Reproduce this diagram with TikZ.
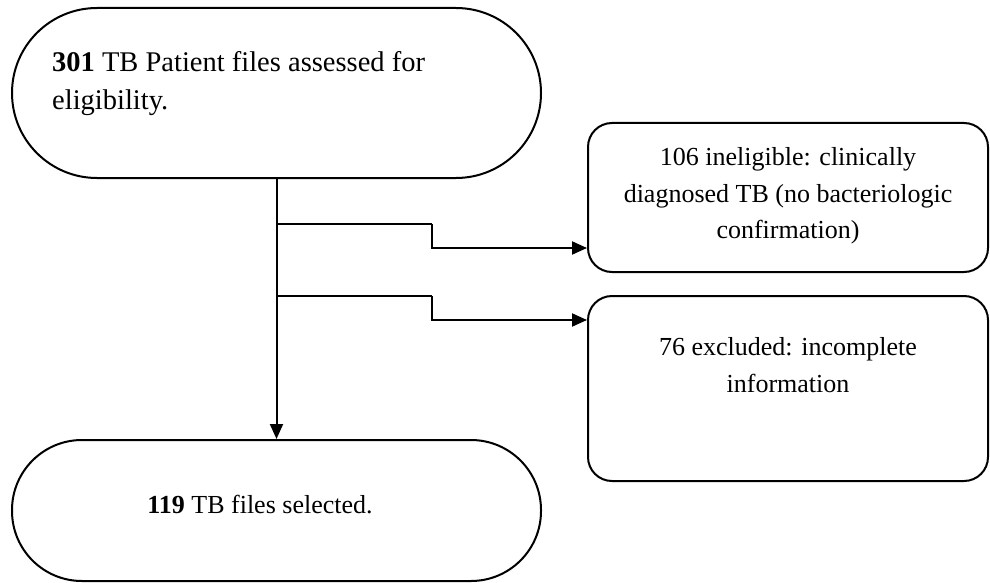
\documentclass[tikz,border=0pt]{standalone}
\usepackage{fontspec}
\setmainfont{Liberation Serif}
\usetikzlibrary{arrows.meta}
\begin{document}
\begin{tikzpicture}[x=1pt,y=-1pt,
  shapebox/.style={draw, line width=2pt, inner sep=0pt},
  txt/.style={inner sep=0pt, font=\fontsize{26}{36.5}\selectfont},
  bigtxt/.style={inner sep=0pt, font=\fontsize{28.5}{38}\selectfont},
  conn/.style={line width=2pt, -{Triangle[length=15pt,width=13pt]}},
  link/.style={line width=2pt}]
\useasboundingbox (0,0) rectangle (990,583);
% shapes
\node[shapebox, minimum width=529pt, minimum height=170pt, rounded corners=85pt] (top) at (276.5,93) {};
\node[shapebox, minimum width=529pt, minimum height=141pt, rounded corners=70pt] (bot) at (276.5,510.5) {};
\node[shapebox, minimum width=400pt, minimum height=149pt, rounded corners=24pt] (r1) at (788,197.5) {};
\node[shapebox, minimum width=400pt, minimum height=185pt, rounded corners=24pt] (r2) at (788,388.5) {};
% texts
\node[bigtxt, anchor=west, align=left] (ttop) at (52,83.5) {\textbf{301} TB Patient files assessed for\\eligibility.};
\node[txt, align=center] (tr1) at (788,196) {106 ineligible: clinically\\diagnosed TB (no bacteriologic\\confirmation)};
\node[txt, align=center] (tr2) at (788,365) {76 excluded: incomplete\\information};
\node[txt] (tbot) at (260,505) {\textbf{119} TB files selected.};
% connectors
\draw[conn] (top.south) -- (bot.north);
\coordinate (j1) at (276.5,224);
\coordinate (k1) at (432,224);
\coordinate (m1) at (432,248);
\coordinate (j2) at (276.5,296);
\coordinate (k2) at (432,296);
\coordinate (m2) at (432,320);
\draw[link] (j1) -- (k1);
\draw[conn] (k1) -- (m1) -- (r1.west |- m1);
\draw[link] (j2) -- (k2);
\draw[conn] (k2) -- (m2) -- (r2.west |- m2);
\end{tikzpicture}
\end{document}
